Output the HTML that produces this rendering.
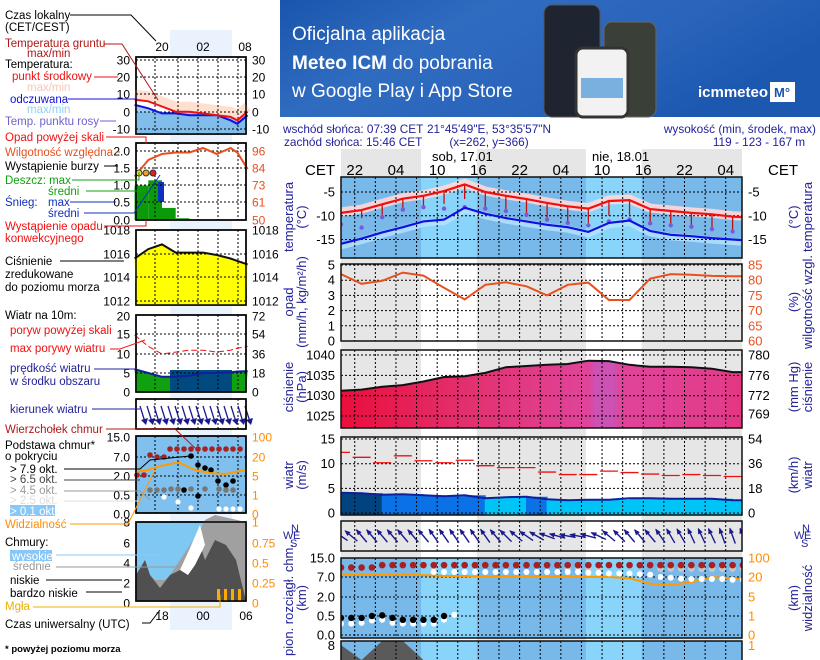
<!DOCTYPE html>
<html><head><meta charset="utf-8">
<style>
body{margin:0;background:#fff;width:820px;height:660px;overflow:hidden}
svg text{font-family:"Liberation Sans","DejaVu Sans",sans-serif}
</style></head>
<body>
<svg id="chart" width="820" height="660" viewBox="0 0 820 660" xmlns="http://www.w3.org/2000/svg" style="display:block;overflow:hidden">
<defs>
<linearGradient id="bannerGrad" x1="0" y1="0" x2="1" y2="0.4">
<stop offset="0" stop-color="#1a55ad"/><stop offset="0.35" stop-color="#2f6cc0"/><stop offset="0.7" stop-color="#2a64bb"/><stop offset="1" stop-color="#1c58b0"/></linearGradient>
<linearGradient id="pressGrad" x1="0" y1="0" x2="1" y2="0">
<stop offset="0" stop-color="#ea0e3c"/><stop offset="0.3" stop-color="#e2306e"/><stop offset="0.6" stop-color="#e0449a"/><stop offset="0.62" stop-color="#cc52b4"/><stop offset="0.66" stop-color="#cc52b4"/><stop offset="0.68" stop-color="#e0449a"/><stop offset="0.92" stop-color="#e23c8c"/><stop offset="1" stop-color="#e8307a"/></linearGradient>
<clipPath id="plotClip"><rect x="341" y="140" width="401" height="520"/></clipPath>
</defs>

<g>
<rect x="280" y="0" width="540" height="117" fill="url(#bannerGrad)"/>
<text x="292" y="40" font-size="19" fill="#fff">Oficjalna aplikacja</text>
<text x="292" y="69" font-size="19" fill="#fff"><tspan font-weight="bold">Meteo ICM</tspan> do pobrania</text>
<text x="292" y="97" font-size="19" fill="#fff">w Google Play i App Store</text>
<rect x="544" y="5" width="56" height="112" rx="8" fill="#1e2430" stroke="#555"/>
<rect x="604" y="22" width="52" height="95" rx="8" fill="#3a4038" stroke="#666"/>
<rect x="576" y="48" width="52" height="69" rx="7" fill="#f2f2f2" stroke="#333" stroke-width="3"/>
<rect x="581" y="78" width="42" height="20" fill="#7ab0e0"/>
<text x="698" y="97" font-size="15" font-weight="bold" fill="#fff">icmmeteo</text>
<rect x="770" y="82" width="25" height="20" fill="#fff"/>
<text x="774" y="97" font-size="13" font-weight="bold" fill="#1a55ad">M°</text>
</g>

<g fill="#22229a" font-size="11.8">
<text x="283" y="133">wschód słońca: 07:39 CET</text>
<text x="284" y="146">zachód słońca: 15:46 CET</text>
<text x="489" y="133" text-anchor="middle">21°45'49"E, 53°35'57"N</text>
<text x="489" y="146" text-anchor="middle">(x=262,  y=366)</text>
<text x="816" y="133" text-anchor="end">wysokość (min, środek, max)</text>
<text x="759" y="146" text-anchor="middle">119 - 123 - 167 m</text>
</g>
<g id="main" clip-path="url(#plotClip)"></g>
<g id="mainFg"></g>
<g id="legend"></g>
</svg>
<script>
const NS='http://www.w3.org/2000/svg';
function mk(tag,attrs,parent){const e=document.createElementNS(NS,tag);for(const k in attrs)e.setAttribute(k,attrs[k]);parent.appendChild(e);return e;}
const main=document.getElementById('main');
const fg=document.getElementById('mainFg');
const lg=document.getElementById('legend');

const hours3=[20,23,26,29,32,35,38,41,44,47,50,53,56,59,62,65,68,71,74,77,80];
const tempMean=[-9.4,-8.8,-7.6,-6.4,-5.8,-4.8,-3.4,-5.0,-5.8,-6.5,-7.3,-8.0,-8.5,-6.9,-6.7,-8.6,-9.0,-9.4,-9.7,-10.2,-10.4];
const tempFeel=[-15.9,-14.8,-13.5,-12.4,-11.2,-10.8,-8.3,-9.6,-10.5,-11.2,-11.9,-12.4,-13.4,-11.5,-11.0,-13.2,-14.0,-14.3,-14.7,-15.0,-15.3];
const dewPoint=[-11.8,-12.5,-10.3,-8.7,-8.2,-8.5,-8.2,-8.5,-9.0,-9.8,-10.8,-11.5,-12.0,-11.2,-10.8,-11.6,-12.0,-12.3,-12.8,-13.3,-13.4];
const groundMin=[-11.0,-10.5,-9.8,-9.0,-8.0,-7.5,-6.5,-8.2,-9.2,-9.8,-10.5,-11.2,-11.5,-10.0,-9.8,-11.5,-12.0,-12.6,-13.0,-13.6,-14.0];
const humidity=[82,78.8,79.8,82.5,81.5,77.5,73.7,78.5,79.3,78,75,78.5,79.2,73.5,73.5,80.5,82,81.8,81.4,81.3,81.3];
const pressure=[1031.2,1031.5,1032.2,1032.6,1033.5,1034.6,1034.8,1035.6,1037,1037.3,1037.6,1037.8,1038.6,1038.5,1037.6,1037.1,1037.1,1037.0,1036.6,1035.8,1035.8];
const windGust=[12.3,11.3,10.2,11.6,10.6,10.2,10.7,9.6,9.2,9.2,8.3,7.8,7.8,8.5,8.2,7.9,7.6,7.8,7.6,7.4,7.7];
const windSpeed=[4.1,4.0,3.7,3.8,3.6,3.4,3.6,3.0,3.2,3.3,2.8,2.6,2.7,2.7,3.0,3.0,2.9,2.9,2.9,2.6,2.6];
const visibility=[30,30,30,30,28,24,24,20,22,22,21,21,20,20,19,15,14,16,20,19,18];
const cloudCover=[0.95,0.7,1.0,1.0,0.0,0,0,0,0,0,0,0,0,0,0,0,0,0,0,0,0];
const hours15=[20,21.5,23,24.5,26,27.5,29,30.5,32,33.5,35,36.5,38,39.5,41,42.5,44,45.5,47,48.5,50,51.5,53,54.5,56,57.5,59,60.5,62,63.5,65,66.5,68,69.5,71,72.5,74,75.5,77,78.5];
const windDir=[125,130,140,140,140,140,140,140,140,145,145,145,145,145,145,140,135,130,125,120,110,105,100,100,105,115,130,135,140,140,140,145,150,150,155,155,155,160,160,160];
const cloudTop=[11,11,11,11,12,12,12,12,12,12,12,12,12,12,12,12,12,12,12,12,12,12,12,12,12,12,12,12,12,12,12,12,12,12,12,12,12,12,12,12];
const baseHigh=[null,null,null,null,null,null,null,null,null,9.1,9.1,9.1,9.1,9.1,9.1,9.1,9.1,9.1,9.1,9.1,9.1,9.1,9.1,9.1,8.8,8.8,8.5,8.5,8.5,8.2,8.0,7.0,6.8,6.6,6.5,6.5,6.5,6.5,6.3,6.3];
const baseMid=[null,null,null,null,null,null,null,null,null,10.5,null,null,null,null,null,null,null,null,null,null,null,null,10.5,10.5,10.5,10.5,null,null,null,null,null,10.5,10.5,10.5,10.5,10.5,10.5,10.5,10.5,10.5];
const baseLow=[0.45,0.45,0.45,0.5,0.55,0.45,0.4,0.4,0.4,0.4,0.5,null,null,null,null,null,null,null,null,null,null,null,null,null,null,null,null,null,null,null,null,null,null,null,null,null,null,null,null,null];
const baseLowLight=[0.3,0.3,0.32,0.38,0.4,0.32,0.3,0.3,0.3,0.3,0.4,0.6,null,null,null,null,null,null,null,null,null,null,null,null,null,null,null,null,null,null,null,null,null,null,null,null,null,null,null,null];
const dayStart=[31.65,55.65];
const dayEnd=[39.77,63.77];
const hourLabels=['22','04','10','16','22','04','10','16','22','04'];
const tempTicks=[-5,-10,-15];
const precipTicks=[0,1,2,3,4,5];
const humTicks=[60,65,70,75,80,85];
const pressTicks=[1025,1030,1035,1040];
const mmHgTicks=['780','776','772','769'];
const windTicks=[0,5,10,15];
const kmhTicks=['0','18','36','54'];
const kmTicks=['0.0','0.5','2.0','7.0','15.0'];
const visTicks=['0','1','5','20','100'];

const X=h=>341+(h-20)*6.87;
const L=341,R=742;
const yT=v=>192-(v+5)*4.75;
const yP=v=>341-v*15.2;
const yH=v=>341-(v-60)*3.04;
const yPr=v=>355+(1040-v)*4.07;
const yW=v=>513-v*4.93;
const kmV=[0,0.5,2,7,15], kmY=[635,616,597,577,558];
const visV=[0,1,5,20,100];
function pw(v,vs){for(let i=0;i<vs.length-1;i++){if(v<=vs[i+1]){return kmY[i]+(v-vs[i])/(vs[i+1]-vs[i])*(kmY[i+1]-kmY[i]);}}return kmY[kmY.length-1];}
const yKm=v=>pw(v,kmV), yVis=v=>pw(v,visV);
const pts=(hs,vs,f)=>hs.map((h,i)=>X(h).toFixed(1)+','+f(vs[i]).toFixed(1)).join(' ');

const colBg=mk('rect',{x:L,y:149,width:R-L,height:511,fill:'#e6e6e6'},main);


dayStart.forEach((d,i)=>{
 const r=mk('rect',{x:X(d),y:149,width:X(dayEnd[i])-X(d),height:511,fill:'#fff'},main);
 
 
});

function bluePanel(y0,y1,name){
 const b=mk('rect',{x:L,y:y0,width:R-L,height:y1-y0,fill:'#78b9ea'},main);
 
 
 dayStart.forEach((d,i)=>{
  const r=mk('rect',{x:X(d),y:y0,width:X(dayEnd[i])-X(d),height:y1-y0,fill:'#88d4fb'},main);
  
  
 });
}
bluePanel(177,258,'temperature-panel');
bluePanel(558,638,'cloud-base-panel');
bluePanel(641,660,'clouds-panel');

function gridLines(y0,y1,hy){
 for(let h=22;h<80;h+=3){const l=mk('line',{x1:X(h),x2:X(h),y1:y0,y2:y1,stroke:'#000','stroke-dasharray':'2,2','stroke-width':1},main);}
 hy.forEach(y=>{const l=mk('line',{x1:L,x2:R,y1:y,y2:y,stroke:'#000','stroke-dasharray':'2,2','stroke-width':1},main);});
}

const pinkBand=mk('polyline',{points:pts(hours3,tempMean,v=>yT(v)-1),fill:'none',stroke:'#ffd8d8','stroke-width':9,opacity:0.9},main);


const blueBand=mk('polyline',{points:pts(hours3,tempFeel,v=>yT(v)+2),fill:'none',stroke:'#b8e4ff','stroke-width':7,opacity:0.8},main);


gridLines(177,258,tempTicks.map(yT));
hours3.forEach((h,i)=>{
 const t=mk('line',{x1:X(h),x2:X(h),y1:yT(tempMean[i]),y2:yT(groundMin[i]),stroke:'#c01010','stroke-width':1.3},main);
 
 
 const d=mk('circle',{cx:X(h),cy:yT(dewPoint[i]),r:2.2,fill:'#7a5ad8'},main);
 
 
});
const feelLine=mk('polyline',{points:pts(hours3,tempFeel,yT),fill:'none',stroke:'#1010e0','stroke-width':2.2},main);


const tLine=mk('polyline',{points:pts(hours3,tempMean,yT),fill:'none',stroke:'#f01010','stroke-width':2.2},main);



gridLines(264,341,precipTicks.map(yP));
const hLine=mk('polyline',{points:pts(hours3,humidity,yH),fill:'none',stroke:'#e8501e','stroke-width':2},main);



const pArea=mk('polygon',{points:X(hours3[0])+',428 '+pts(hours3,pressure,yPr)+' '+X(hours3[hours3.length-1])+',428',fill:'url(#pressGrad)'},main);


gridLines(350,428,pressTicks.map(yPr));
const pLine=mk('polyline',{points:pts(hours3,pressure,yPr),fill:'none',stroke:'#111','stroke-width':2},main);



hours3.forEach((h,i)=>{
 const v=windSpeed[i];
 const c=v>=4?'#00437e':(v>=3.3?'#0a72e6':'#00c4f6');
 const r=mk('rect',{x:X(h)-0.5,y:yW(v),width:X(h+3)-X(h)+1,height:513-yW(v)+2,fill:c},main);
 
 
});
gridLines(437,515,windTicks.map(yW));
hours3.forEach((h,i)=>{
 const g=mk('line',{x1:X(h)-9,x2:X(h)+9,y1:yW(windGust[i]),y2:yW(windGust[i]),stroke:'#f01010','stroke-width':1.3},main);
 
 
});
const wLine=mk('polyline',{points:pts(hours3,windSpeed,yW),fill:'none',stroke:'#10209a','stroke-width':2},main);



gridLines(521,551,[]);
hours15.forEach((h,i)=>{
 const a=(windDir[i]+180)*Math.PI/180;
 const dx=Math.sin(a)*8, dy=-Math.cos(a)*8;
 const cx=X(h), cy=536;
 const ar=mk('g',{},main);
 
 
 mk('line',{x1:cx-dx,y1:cy-dy,x2:cx+dx,y2:cy+dy,stroke:'#1a1a8c','stroke-width':1.4},ar);
 const hx=cx+dx,hy=cy+dy,ux=dx/8,uy=dy/8;
 mk('polygon',{points:`${hx+ux*1},${hy+uy*1} ${hx-ux*5-uy*2.5},${hy-uy*5+ux*2.5} ${hx-ux*5+uy*2.5},${hy-uy*5-ux*2.5}`,fill:'#1a1a8c'},ar);
});

gridLines(558,638,kmY);
function dots(arr,color,r,name){hours15.forEach((h,i)=>{if(arr[i]==null)return;const c=mk('circle',{cx:X(h),cy:yKm(arr[i]),r:r,fill:color},main);});}
dots(baseLowLight,'#ffffff',3,'cloud-base-dot-light');
dots(baseLow,'#000000',3.2,'cloud-base-dot-dense');
dots(baseMid,'#c8c8c8',3.2,'cloud-base-dot-mid');
const vLine=mk('polyline',{points:pts(hours3,visibility,yVis),fill:'none',stroke:'#ff9a00','stroke-width':2},main);


dots(baseHigh,'#ffffff',3,'cloud-base-dot-high');
dots(cloudTop,'#a82020',3.3,'cloud-top-dot');

const cArea=mk('polygon',{points:X(20)+',660 '+pts(hours3,cloudCover,v=>Math.min(660,721-v*80))+' '+X(80)+',660',fill:'#5a5a5a'},main);


gridLines(641,660,[]);

[[177,258],[264,341],[350,428],[437,515],[521,551],[558,638]].forEach(p=>{
 const f=mk('rect',{x:L,y:p[0],width:R-L,height:p[1]-p[0],fill:'none',stroke:'#111','stroke-width':1.5},fg);
 
 
});
const lastFrame=mk('polyline',{points:`${L},660 ${L},641 ${R},641 ${R},660`,fill:'none',stroke:'#111','stroke-width':1.5},fg);



function txt(p,x,y,s,o){const t=mk('text',Object.assign({x:x,y:y},o||{}),p);t.textContent=s;return t;}
hourLabels.forEach((s,i)=>{const t=txt(fg,X(22+6*i),175,s,{'font-size':15,'text-anchor':'middle',fill:'#000'});});
const cl=txt(fg,320,175,'CET',{'font-size':15,'text-anchor':'middle'});
const cr=txt(fg,783,175,'CET',{'font-size':15,'text-anchor':'middle'});
const d1=txt(fg,432,161,'sob, 17.01',{'font-size':13});
const d2=txt(fg,592,161,'nie, 18.01',{'font-size':13});

function ticksL(vals,labels,fy,color){vals.forEach((v,i)=>{const t=txt(fg,335,fy(v)+4.5,labels[i],{'font-size':13,'text-anchor':'end',fill:color||'#000'});});}
function ticksR(vals,labels,fy,color){vals.forEach((v,i)=>{const t=txt(fg,748,fy(v)+4.5,labels[i],{'font-size':13,fill:color||'#000'});});}
ticksL(tempTicks,tempTicks.map(String),yT);ticksR(tempTicks,tempTicks.map(String),yT);
ticksL(precipTicks,precipTicks.map(String),yP);ticksR(humTicks,humTicks.map(String),yH,'#e8501e');
ticksL(pressTicks,pressTicks.map(String),yPr);ticksR([1040,1035,1030,1025.5],mmHgTicks,yPr);
ticksL(windTicks,windTicks.map(String),yW);ticksR(windTicks,kmhTicks,yW);
ticksL(kmV,kmTicks,yKm);ticksR(visV,visTicks,yVis,'#ff8c00');
const t8=txt(fg,335,650,'8',{'font-size':13,'text-anchor':'end'});
const t1=txt(fg,748,650,'1',{'font-size':13,fill:'#ff8c00'});

function rot(x,y,s,name){const t=mk('text',{transform:`translate(${x},${y}) rotate(-90)`,'text-anchor':'middle','font-size':13,fill:'#22229a'},fg);t.textContent=s;}
rot(293,217,'temperatura','temperature-axis-title');rot(306,217,'(°C)','temperature-axis-unit');
rot(798,217,'(°C)','temperature-axis-unit-right');rot(812,217,'temperatura','temperature-axis-title-right');
rot(293,302,'opad','precip-axis-title');rot(306,302,'(mm/h, kg/m²/h)','precip-axis-unit');
rot(798,302,'(%)','humidity-axis-unit');rot(812,302,'wilgotność wzgl.','humidity-axis-title');
rot(293,387,'ciśnienie','pressure-axis-title');rot(306,387,'(hPa)','pressure-axis-unit');
rot(798,387,'(mm Hg)','pressure-mmhg-unit');rot(812,387,'ciśnienie','pressure-axis-title-right');
rot(293,475,'wiatr','wind-axis-title');rot(306,475,'(m/s)','wind-axis-unit');
rot(798,475,'(km/h)','wind-kmh-unit');rot(812,475,'wiatr','wind-axis-title-right');
rot(293,600,'pion. rozciągł. chm.','cloud-extent-axis-title');rot(306,598,'(km)','cloud-axis-unit');
rot(798,598,'(km)','visibility-axis-unit');rot(812,598,'widzialność','visibility-axis-title');
function compass(x){const g=mk('g',{fill:'#22229a','font-size':11},fg);
 txt(g,x+8,532,'N');txt(g,x,539,'W');txt(g,x+10,539,'E');txt(g,x+7,547,'S');}
compass(283);compass(794);

// ---------- legend mini meteogram ----------
const miniHours=[16,18,20,22,24,26,28,30,31,32.5];
const miniTemp=[7,6,3,0,0,-1,-2,-3,-5,0];
const miniFeel=[4,2,-1,-1,-2,-2,-2,-5,-7,-2];
const miniHum=[79,90,94,95,95,98,94,98,95,84];
const miniPress=[1015.6,1016.4,1016.8,1016.1,1016.1,1016.1,1015.9,1015.6,1015.4,1015.1];
const miniWind=[6,5,4,4,4.3,5,5,5.2,5.4,5.5];
const miniGust=[15,12,10,10.5,11,11,10.5,11,11.5,12];
const miniRain=[1.0,1.15,0.35,0.05,0,0,0,0,0,0];
const mX=h=>162+(h-20)*6.85;
const mp=(vs,f)=>miniHours.map((h,i)=>mX(h).toFixed(1)+','+f(vs[i]).toFixed(1)).join(' ');
const mL=136,mR=246;
const band=mk('rect',{x:170,y:30,width:62,height:600,fill:'#eaf2fd'},lg);

function mframe(y0,y1,fill){const r=mk('rect',{x:mL,y:y0,width:mR-mL,height:y1-y0,fill:fill||'none',stroke:'#000','stroke-width':1.5},lg);return r;}
function mgrid(y0,y1,ys){[155,178,198,218,238].forEach(x=>mk('line',{x1:x,x2:x,y1:y0,y2:y1,stroke:'#000','stroke-dasharray':'2,2'},lg));ys.forEach(y=>mk('line',{x1:mL,x2:mR,y1:y,y2:y,stroke:'#000','stroke-dasharray':'2,2'},lg));}
const myT=v=>111.7-v*1.725;
mframe(57,134,'#fff');
mk('rect',{x:mL,y:112,width:mR-mL,height:22,fill:'#8cc8f0'},lg);
mk('polygon',{points:`${mL},${112} ${mp(miniFeel,myT)} ${mR},134 ${mL},134`,fill:'#7ab8e8',opacity:0.7},lg);
mk('polyline',{points:mp(miniTemp,v=>myT(v)-5),fill:'none',stroke:'#ffe0d0','stroke-width':10},lg);
mgrid(57,134,[60,77,94,112,129]);
mk('polyline',{points:mp(miniFeel,myT),fill:'none',stroke:'#1010e0','stroke-width':2},lg);
mk('polyline',{points:mp(miniTemp,myT),fill:'none',stroke:'#f01010','stroke-width':2},lg);
mframe(57,134);
const myP=v=>220-v*34.5, myH=v=>220-(v-50)*1.5;
mframe(143,220,'#fff');
miniHours.slice(0,-1).forEach((h,i)=>{if(miniRain[i]>0){const r=mk('rect',{x:mX(h),y:myP(miniRain[i]),width:mX(miniHours[i+1])-mX(h),height:220-myP(miniRain[i]),fill:'#0a9a0a'},lg);}});
mk('rect',{x:158,y:182,width:6,height:20,fill:'#1030c0'},lg);
mgrid(143,220,[151,168,185,202]);
mk('polyline',{points:mp(miniHum,myH),fill:'none',stroke:'#e8501e','stroke-width':2},lg);
[[139,173,'#f0e020'],[146,173,'#f0a020'],[153,173,'#e02020']].forEach(c=>mk('circle',{cx:c[0],cy:c[1],r:3,fill:c[2],stroke:'#333'},lg));
mframe(143,220);
const myPr=v=>301-(v-1012)*11.8;
mframe(230,305,'#fff');
mk('polygon',{points:`${mL},305 ${mp(miniPress,myPr)} ${mR},305`,fill:'#ffff00'},lg);
mgrid(230,305,[230,254,277,301]);
mk('polyline',{points:mp(miniPress,myPr),fill:'none',stroke:'#111','stroke-width':2},lg);
mframe(230,305);
const myW=v=>392-v*3.8;
mframe(315,392,'#fff');
mk('polygon',{points:`${mL},392 ${mp(miniWind,myW)} ${mR},392`,fill:'#10a010'},lg);
mk('rect',{x:170,y:370,width:62,height:22,fill:'#004a80'},lg);
mgrid(315,392,[334,354,373]);
mk('polyline',{points:mp(miniWind,myW),fill:'none',stroke:'#10209a','stroke-width':2},lg);
mk('polyline',{points:mp(miniGust,myW),fill:'none',stroke:'#f01010','stroke-width':1,'stroke-dasharray':'6,3'},lg);
mframe(315,392);
mframe(399,429,'#fff');
mgrid(399,429,[]);
for(let x=140;x<246;x+=7){mk('line',{x1:x,y1:406,x2:x+5,y2:422,stroke:'#1a1a8c','stroke-width':1.3},lg);mk('polygon',{points:`${x+6},425 ${x+1},420 ${x+8},418`,fill:'#1a1a8c'},lg);}
mframe(399,429);
mframe(436,513,'#80c0ee');
mgrid(436,513,[457,476,495]);
[[170,449],[177,449],[184,449],[191,449],[198,449],[205,449],[212,449],[219,449],[226,449],[233,449],[240,449],[150,455],[157,457],[164,457],[137,475],[144,475]].forEach(p=>mk('circle',{cx:p[0],cy:p[1],r:2.8,fill:'#a82020'},lg));
[[191,456],[198,465],[205,468],[211,470],[218,481],[226,485],[233,481],[184,490],[198,496]].forEach(p=>mk('circle',{cx:p[0],cy:p[1],r:2.8,fill:'#000'},lg));
[[150,490],[157,490],[164,490],[171,489],[178,489],[191,489],[205,489],[219,489],[226,490],[233,490]].forEach(p=>mk('circle',{cx:p[0],cy:p[1],r:2.8,fill:'#777'},lg));
[[164,497],[178,502],[191,508],[219,509],[226,509],[233,509],[240,509]].forEach(p=>mk('circle',{cx:p[0],cy:p[1],r:2.6,fill:'#fff'},lg));
mk('polyline',{points:'136,472 148,470 160,466 175,463 180,463 195,470 210,473 225,474 246,470',fill:'none',stroke:'#ff9a00','stroke-width':2},lg);
mframe(436,513);
mframe(522,601,'#80c8f4');
mk('polygon',{points:'136,575 140,570 145,560 150,575 155,580 165,580 170,575 180,560 190,545 200,530 205,520 215,515 246,522 246,601 136,601',fill:'#a0a0a0'},lg);
mk('polygon',{points:'136,575 145,560 150,575 160,588 170,575 180,570 190,560 200,545 205,560 215,540 226,545 236,560 246,601 136,601',fill:'#505050'},lg);
mk('polygon',{points:'180,570 190,548 200,525 205,545 195,565 188,575',fill:'#fff'},lg);
[217,224,231,238].forEach(x=>mk('rect',{x:x,y:589,width:3,height:12,fill:'#ffaa00'},lg));
mframe(522,601);

const labels=[
 [5,19,'Czas lokalny','#000'],[5,31,'(CET/CEST)','#000'],
 [5,47,'Temperatura gruntu','#b01818'],[27,57,'max/min','#b01818'],
 [5,68,'Temperatura:','#000'],[12,80,'punkt środkowy','#f01010'],[27,91,'max/min','#f5c8b8'],
 [10,103,'odczuwana','#1010e0'],[27,113,'max/min','#90d0f8'],[5,125,'Temp. punktu rosy','#7060d0'],
 [5,141,'Opad powyżej skali','#f01010'],[5,156,'Wilgotność względna','#e8501e'],[5,170,'Wystąpienie burzy','#000'],
 [5,184,'Deszcz: max','#10a010'],[48,195,'średni','#10a010'],[5,206,'Śnieg:','#1030c0'],[48,206,'max','#1030c0'],[48,217,'średni','#1030c0'],
 [5,230,'Wystąpienie opadu','#f01010'],[5,242,'konwekcyjnego','#f01010'],
 [5,265,'Ciśnienie','#000'],[5,278,'zredukowane','#000'],[5,291,'do poziomu morza','#000'],
 [5,319,'Wiatr na 10m:','#000'],[10,334,'poryw powyżej skali','#f01010'],[10,352,'max porywy wiatru','#f01010'],
 [10,372,'prędkość wiatru','#22229a'],[10,385,'w środku obszaru','#22229a'],[10,413,'kierunek wiatru','#22229a'],
 [5,433,'Wierzchołek chmur','#b01818'],[5,449,'Podstawa chmur*','#000'],[5,460,'o pokryciu','#000'],
 [10,473,'> 7.9 okt.','#000'],[10,483,'> 6.5 okt.','#444'],[10,494,'> 4.5 okt.','#999'],[10,504,'> 2.5 okt.','#ddd'],
 [5,528,'Widzialność','#ff8c00'],[5,546,'Chmury:','#000'],[13,570,'średnie','#999'],[10,584,'niskie','#000'],[10,597,'bardzo niskie','#000'],[5,610,'Mgła','#f0b000'],
 [5,628,'Czas uniwersalny (UTC)','#000']
];
mk('rect',{x:10,y:505,width:45,height:11,fill:'#88c8f8'},lg);
mk('rect',{x:10,y:550,width:42,height:11,fill:'#88c8f8'},lg);
labels.push([10,515,'> 0.1 okt.','#fff'],[12,560,'wysokie','#fff']);
labels.forEach(l=>{const t=txt(lg,l[0],l[1],l[2],{'font-size':11.5,fill:l[3]});});
const fn=txt(lg,5,652,'* powyżej poziomu morza',{'font-size':9.5,'font-weight':'bold'});

const mticks=[
 [['30',60],['20',77],['10',94],['0',112],['-10',129]],
 [['2.0',151],['1.5',168],['1.0',185],['0.5',202],['0.0',220]],
 [['1018',230],['1016',254],['1014',277],['1012',301]],
 [['20',316],['15',334],['10',354],['5',373],['0',392]],
 [['15.0',437],['7.0',457],['2.0',476],['0.5',495],['0.0',514]],
 [['8',522],['6',543],['4',563],['2',583],['0',603]]];
const rticks=[
 [['30',60,'#000'],['20',77,'#000'],['10',94,'#000'],['0',112,'#000'],['-10',129,'#000']],
 [['96',151,'#e8501e'],['84',168,'#e8501e'],['73',185,'#e8501e'],['61',202,'#e8501e'],['50',220,'#e8501e']],
 [['1018',230,'#000'],['1016',254,'#000'],['1014',277,'#000'],['1012',301,'#000']],
 [['72',316,'#000'],['54',334,'#000'],['36',354,'#000'],['18',373,'#000'],['0',392,'#000']],
 [['100',437,'#ff8c00'],['20',457,'#ff8c00'],['5',476,'#ff8c00'],['1',495,'#ff8c00'],['0',514,'#ff8c00']],
 [['1',522,'#ff8c00'],['0.75',543,'#ff8c00'],['0.5',563,'#ff8c00'],['0.25',583,'#ff8c00'],['0',603,'#ff8c00']]];
mticks.forEach(g=>g.forEach(t=>{const e=txt(lg,130,t[1]+4.5,t[0],{'font-size':12,'text-anchor':'end'});}));
rticks.forEach(g=>g.forEach(t=>{const e=txt(lg,252,t[1]+4.5,t[0],{'font-size':12,fill:t[2]});}));
[['20',162,51],['02',203,51],['08',245,51],['18',162,620],['00',203,620],['06',246,620]].forEach(t=>{const e=txt(lg,t[1],t[2],t[0],{'font-size':12,'text-anchor':'middle'});});
const leaders=[
 ['70,15 131,15 156,41','#000'],['104,44 122,44 158,100','#b01818'],['94,77 118,77','#f01010'],['68,99 137,99','#1010e0'],['100,121 116,121','#7060d0'],
 ['106,137 146,137 146,144','#f01010'],['116,152 120,152','#e8501e'],['104,166 118,166','#000'],['72,180 139,180 139,172','#10a010'],['86,191 146,191','#10a010'],
 ['70,202 116,202','#1030c0'],['84,213 134,213 160,175','#1030c0'],['104,226 146,226 146,220','#f01010'],['60,261 124,261','#000'],
 ['110,349 120,349 145,340','#f01010'],['94,369 137,369','#22229a'],['92,409 140,409','#22229a'],['106,429 175,429 195,448','#b01818'],
 ['64,469 140,469 150,460 190,456','#000'],['64,480 140,480','#444'],['64,491 140,491 150,500','#999'],['64,501 140,501','#ddd'],
 ['70,524 128,524 155,470','#ff9a00'],['56,555 160,555','#88c8f8'],['56,567 180,567','#999'],['46,580 122,580','#000'],['86,592 122,592','#000'],['33,607 220,607 220,595','#f0b000'],
 ['142,623 150,623 160,610','#000']];
leaders.forEach(l=>{const e=mk('polyline',{points:l[0],fill:'none',stroke:l[1],'stroke-width':1},lg);});
</script>
</body></html>
